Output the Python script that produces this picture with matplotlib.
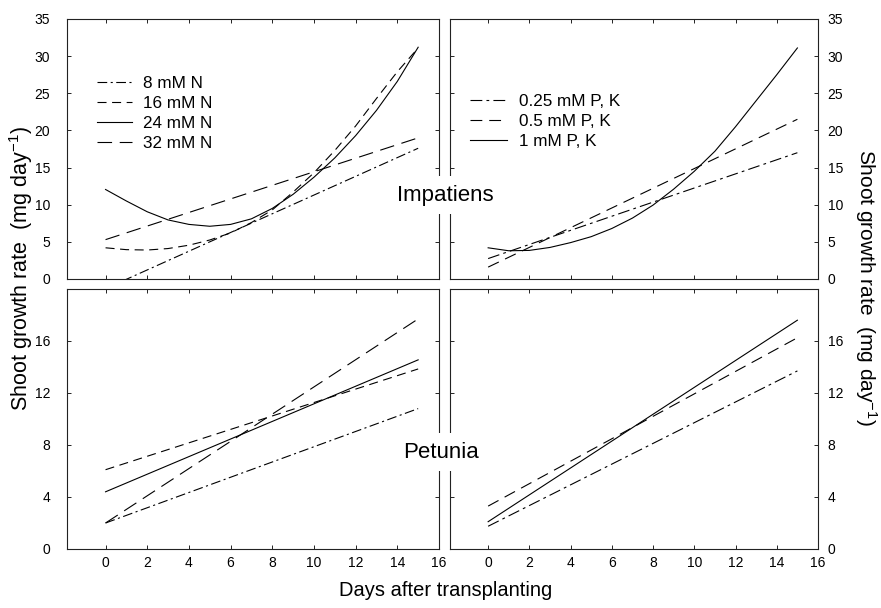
import numpy as np
import matplotlib
matplotlib.use('Agg')
import matplotlib.pyplot as plt

plt.rcParams['font.family'] = ['Liberation Sans', 'DejaVu Sans']
plt.rcParams['mathtext.fontset'] = 'custom'
plt.rcParams['mathtext.rm'] = 'Liberation Sans'
plt.rcParams['mathtext.it'] = 'Liberation Sans'
plt.rcParams['lines.scale_dashes'] = False

# ---------------- data ----------------
days = list(range(16))          # days for fitted curves
line_days = [0, 15]             # days for fitted straight lines

# Impatiens, nitrogen
imp_n8 = [-1.3, 17.6]
imp_n16 = [4.2, 3.95, 3.9, 4.1, 4.55, 5.25, 6.2, 7.6, 9.3, 11.7, 14.3, 17.3, 20.6, 24.3, 27.9, 31.1]
imp_n24 = [12.05, 10.5, 9.05, 7.95, 7.35, 7.1, 7.35, 8.1, 9.5, 11.4, 13.7, 16.3, 19.3, 22.7, 26.6, 31.2]
imp_n32 = [5.3, 19.0]

# Impatiens, P and K
imp_p025 = [2.75, 17.0]
imp_p05 = [1.6, 21.5]
imp_p1 = [4.2, 3.8, 3.85, 4.25, 4.9, 5.7, 6.8, 8.2, 9.95, 12.1, 14.5, 17.2, 20.5, 24.0, 27.5, 31.1]

# Petunia, nitrogen
pet_n8 = [2.0, 10.8]
pet_n16 = [6.1, 13.85]
pet_n24 = [4.4, 14.55]
pet_n32 = [2.0, 17.7]

# Petunia, P and K
pet_p025 = [1.75, 13.7]
pet_p05 = [3.3, 16.25]
pet_p1 = [2.1, 17.6]

n_labels = ['8 mM N', '16 mM N', '24 mM N', '32 mM N']
pk_labels = ['0.25 mM P, K', '0.5 mM P, K', '1 mM P, K']
x_ticks = [0, 2, 4, 6, 8, 10, 12, 14, 16]
top_yticks = [0, 5, 10, 15, 20, 25, 30, 35]
bot_yticks = [0, 4, 8, 12, 16]

# ---------------- styles ----------------
ls_dashdot = (0, (7, 2.5, 1.5, 2.5))
ls_short = (0, (6.5, 4))
ls_long = (0, (10.5, 5.5))
ls_solid = '-'
ls_pk_dd = (0, (8.5, 3, 2, 3))
ls_pk_d = (0, (8.5, 5))
lw = 0.8
col = 'black'

fig = plt.figure(figsize=(8.81, 6.08), dpi=100)
W, H = 881, 608

def px_axes(x0, y0, x1, y1):
    return fig.add_axes([x0 / W, 1 - y1 / H, (x1 - x0) / W, (y1 - y0) / H])

ax_tl = px_axes(67, 19, 439, 279)
ax_tr = px_axes(450, 19, 818, 279)
ax_bl = px_axes(67, 289, 439, 549)
ax_br = px_axes(450, 289, 818, 549)

def style(ax, yticks, ylim, left_labels, bottom_labels):
    ax.set_xlim(-1.85, 16.0)
    ax.set_ylim(*ylim)
    ax.set_xticks(x_ticks)
    ax.set_yticks(yticks)
    for s in ax.spines.values():
        s.set_linewidth(0.8)
        s.set_color('#222222')
    ax.tick_params(direction='in', length=3, width=0.6, top=True, right=True,
                   labelsize=10, colors='black')
    ax.tick_params(axis='x', labelbottom=bottom_labels, pad=5)
    if left_labels:
        ax.tick_params(axis='y', labelleft=True, labelright=False, pad=12)
    else:
        ax.tick_params(axis='y', labelleft=False, labelright=True, pad=7)

style(ax_tl, top_yticks, (0, 35), True, False)
style(ax_tr, top_yticks, (0, 35), False, False)
style(ax_bl, bot_yticks, (0, 20), True, True)
style(ax_br, bot_yticks, (0, 20), False, True)

# Impatiens N
h8, = ax_tl.plot(line_days, imp_n8, color=col, lw=lw, ls=ls_dashdot, label=n_labels[0])
h16, = ax_tl.plot(days, imp_n16, color=col, lw=lw, ls=ls_short, label=n_labels[1])
h24, = ax_tl.plot(days, imp_n24, color=col, lw=lw, ls=ls_solid, label=n_labels[2])
h32, = ax_tl.plot(line_days, imp_n32, color=col, lw=lw, ls=ls_long, label=n_labels[3])
ax_tl.legend(handles=[h8, h16, h24, h32], loc='upper left', bbox_to_anchor=(0.08, 0.782),
             frameon=False, fontsize=12.3, handlelength=2.05, handletextpad=0.65,
             labelspacing=0.30, borderpad=0, borderaxespad=0)

# Impatiens PK
g1, = ax_tr.plot(line_days, imp_p025, color=col, lw=lw, ls=ls_pk_dd, label=pk_labels[0])
g2, = ax_tr.plot(line_days, imp_p05, color=col, lw=lw, ls=ls_pk_d, label=pk_labels[1])
g3, = ax_tr.plot(days, imp_p1, color=col, lw=lw, ls=ls_solid, label=pk_labels[2])
ax_tr.legend(handles=[g1, g2, g3], loc='upper left', bbox_to_anchor=(0.054, 0.713),
             frameon=False, fontsize=12.3, handlelength=2.2, handletextpad=0.65,
             labelspacing=0.30, borderpad=0, borderaxespad=0)

# Petunia N
ax_bl.plot(line_days, pet_n8, color=col, lw=lw, ls=ls_dashdot)
ax_bl.plot(line_days, pet_n16, color=col, lw=lw, ls=ls_short)
ax_bl.plot(line_days, pet_n24, color=col, lw=lw, ls=ls_solid)
ax_bl.plot(line_days, pet_n32, color=col, lw=lw, ls=ls_long)

# Petunia PK
ax_br.plot(line_days, pet_p025, color=col, lw=lw, ls=ls_pk_dd)
ax_br.plot(line_days, pet_p05, color=col, lw=lw, ls=ls_pk_d)
ax_br.plot(line_days, pet_p1, color=col, lw=lw, ls=ls_solid)

box = dict(facecolor='white', edgecolor='none', boxstyle='square,pad=0.4')
fig.text(445 / W, 1 - 195 / H, 'Impatiens', fontsize=16, ha='center', va='center',
         bbox=box, zorder=10)
fig.text(441 / W, 1 - 452 / H, 'Petunia', fontsize=16, ha='center', va='center',
         bbox=box, zorder=10)

ylab = 'Shoot growth rate  (mg day$^{-1}$)'
fig.text(21 / W, 1 - 268 / H, ylab, fontsize=15.5, rotation=90, ha='center', va='center')
fig.text(866 / W, 1 - 287 / H, ylab, fontsize=15, rotation=270, ha='center', va='center')
fig.text(446 / W, 1 - 590 / H, 'Days after transplanting', fontsize=14.5, ha='center', va='center')

fig.savefig('out.png', dpi=100)
